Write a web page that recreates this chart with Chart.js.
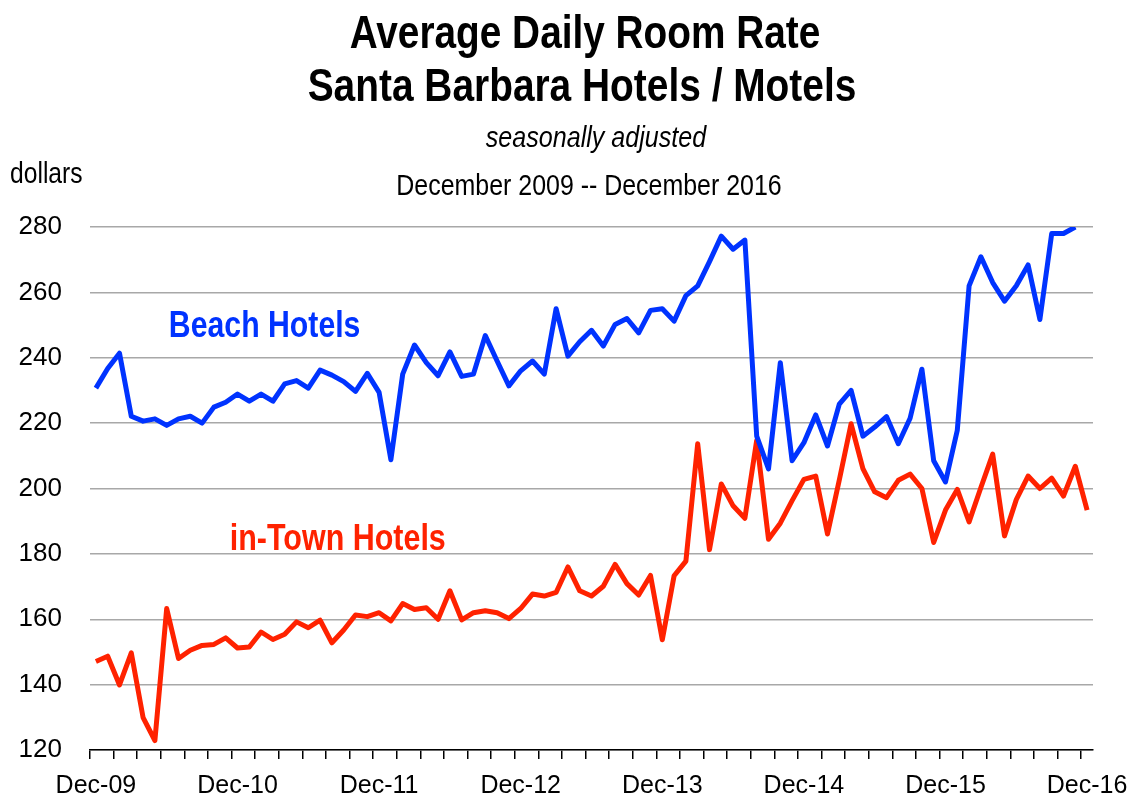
<!DOCTYPE html>
<html>
<head>
<meta charset="utf-8">
<title>Average Daily Room Rate</title>
<script src="https://cdn.jsdelivr.net/npm/chart.js@4.4.1/dist/chart.umd.min.js"></script>
<style>
  html, body { margin: 0; padding: 0; background: #fff; }
  #wrap { width: 1133px; height: 803px; position: relative; }
</style>
</head>
<body>
<div id="wrap"><canvas id="chart"></canvas></div>
<script>
// monthly categories, Dec-09 .. Dec-16
const monthNames = ['Jan', 'Feb', 'Mar', 'Apr', 'May', 'Jun', 'Jul', 'Aug', 'Sep', 'Oct', 'Nov', 'Dec'];
const xTickLabels = ['Dec-09', 'Dec-10', 'Dec-11', 'Dec-12', 'Dec-13', 'Dec-14', 'Dec-15', 'Dec-16'];
const yTicks = [120, 140, 160, 180, 200, 220, 240, 260, 280];

const categories = [];
for (let y = 2009; y <= 2016; y++) {
  for (let m = 0; m < 12; m++) {
    if (y === 2009 && m < 11) continue;
    categories.push(monthNames[m] + '-' + String(y).slice(2));
  }
}

// dollars per night
const beachHotels = [
  230.7, 236.7, 241.4, 222.1, 220.6, 221.3, 219.3, 221.3, 222.1, 220.0, 224.9, 226.4,
  228.9, 226.7, 228.9, 226.7, 232.0, 233.0, 230.7, 236.2, 234.7, 232.7, 229.7, 235.2,
  229.4, 208.8, 235.0, 243.9, 238.5, 234.5, 241.8, 234.3, 235.0, 246.8, 239.0, 231.4,
  236.0, 239.0, 235.0, 255.0, 240.5, 244.9, 248.4, 243.6, 250.2, 252.0, 247.6, 254.5,
  255.0, 251.2, 259.0, 262.0, 269.4, 277.2, 273.2, 276.0, 216.0, 206.0, 238.5, 208.5,
  214.0, 222.5, 213.0, 225.8, 230.0, 216.0, 218.8, 222.0, 213.7, 221.5, 236.5, 208.5,
  202.0, 217.8, 262.0, 270.9, 263.0, 257.3, 262.0, 268.4, 251.7, 278.0, 278.0, 280.0,
  null
];

const inTownHotels = [
  147.1, 148.7, 139.9, 149.7, 129.9, 122.9, 163.3, 148.0, 150.5, 152.0, 152.3, 154.3,
  151.2, 151.5, 156.1, 153.8, 155.4, 159.2, 157.4, 159.7, 152.8, 156.7, 161.3, 160.8,
  162.0, 159.5, 164.8, 163.0, 163.5, 160.0, 168.7, 159.8, 162.0, 162.6, 162.0, 160.2,
  163.3, 167.7, 167.1, 168.2, 176.0, 168.7, 167.1, 170.1, 176.8, 170.9, 167.4, 173.4,
  153.7, 173.3, 177.8, 213.7, 181.3, 201.4, 194.7, 190.9, 214.7, 184.5, 189.4, 196.3,
  202.8, 203.8, 186.1, 202.6, 219.8, 206.1, 199.0, 197.2, 202.5, 204.4, 200.0, 183.5,
  193.4, 199.7, 189.8, 200.3, 210.5, 185.5, 196.6, 203.8, 200.0, 203.2, 197.7, 206.8,
  193.4
];

const FONT = "'Liberation Sans', Arial, sans-serif";
const BLUE = '#0033ff';
const RED = '#ff2200';

// no narrow font installed, so squeeze the text horizontally
function narrowText(ctx, text, x, y, font, color, align, sx) {
  ctx.save();
  ctx.translate(x, y);
  ctx.scale(sx, 1);
  ctx.font = font;
  ctx.fillStyle = color;
  ctx.textAlign = align;
  ctx.textBaseline = 'alphabetic';
  ctx.fillText(text, 0, 0);
  ctx.restore();
}

// headings and series names drawn straight on the canvas
const textPlugin = {
  id: 'texts',
  afterDraw(chart) {
    const ctx = chart.ctx;
    const xs = chart.scales.x;
    const ys = chart.scales.y;
    narrowText(ctx, 'Average Daily Room Rate', 585, 48, 'bold 46px ' + FONT, '#000', 'center', 0.843);
    narrowText(ctx, 'Santa Barbara Hotels / Motels', 582, 101, 'bold 46px ' + FONT, '#000', 'center', 0.845);
    narrowText(ctx, 'seasonally adjusted', 596, 147, 'italic 29px ' + FONT, '#000', 'center', 0.865);
    narrowText(ctx, 'December 2009 -- December 2016', 589, 195, '29px ' + FONT, '#000', 'center', 0.86);
    narrowText(ctx, 'dollars', 10, 183, '29px ' + FONT, '#000', 'left', 0.85);

    narrowText(ctx, 'Beach Hotels', xs.getPixelForValue(14.3), ys.getPixelForValue(246.3),
      'bold 36px ' + FONT, BLUE, 'center', 0.84);
    narrowText(ctx, 'in-Town Hotels', xs.getPixelForValue(20.5), ys.getPixelForValue(181.2),
      'bold 36px ' + FONT, RED, 'center', 0.846);
  }
};

new Chart(document.getElementById('chart'), {
  type: 'line',
  data: {
    labels: categories,
    datasets: [
      {
        label: 'Beach Hotels',
        data: beachHotels,
        borderColor: BLUE,
        borderWidth: 5,
        borderJoinStyle: 'round',
        pointRadius: 0,
        tension: 0
      },
      {
        label: 'in-Town Hotels',
        data: inTownHotels,
        borderColor: RED,
        borderWidth: 5,
        borderJoinStyle: 'round',
        pointRadius: 0,
        tension: 0
      }
    ]
  },
  options: {
    responsive: true,
    maintainAspectRatio: false,
    animation: false,
    layout: { padding: { top: 227, right: 40, bottom: 0, left: 0 } },
    plugins: {
      legend: { display: false },
      title: { display: false },
      tooltip: { enabled: false }
    },
    scales: {
      x: {
        type: 'category',
        offset: true,
        afterFit(scale) {
          scale.height = 53;
          // labels fit inside the 40px right margin, don't let them shrink the plot
          scale.paddingLeft = 0;
          scale.paddingRight = 0;
        },
        grid: {
          offset: true,
          drawOnChartArea: false,
          drawTicks: true,
          tickLength: 9,
          lineWidth: 1.5,
          color: (c) => (c.index % 2 === 0 ? '#000' : 'rgba(0,0,0,0)')
        },
        border: { display: true, color: '#000', width: 1.5 },
        ticks: {
          autoSkip: false,
          maxRotation: 0,
          minRotation: 0,
          padding: 12,
          color: '#000',
          font: { family: FONT, size: 25 },
          callback(value, index) {
            const lab = categories[index];
            return xTickLabels.includes(lab) ? lab : '';
          }
        }
      },
      y: {
        min: yTicks[0],
        max: yTicks[yTicks.length - 1],
        afterFit(scale) { scale.width = 90; },
        afterBuildTicks(scale) { scale.ticks = yTicks.map(v => ({ value: v })); },
        grid: {
          drawTicks: false,
          color: '#a8a8a8',
          lineWidth: 1.5
        },
        border: { display: false },
        ticks: {
          padding: 28,
          color: '#000',
          font: { family: FONT, size: 26 }
        }
      }
    }
  },
  plugins: [textPlugin]
});
</script>
</body>
</html>
